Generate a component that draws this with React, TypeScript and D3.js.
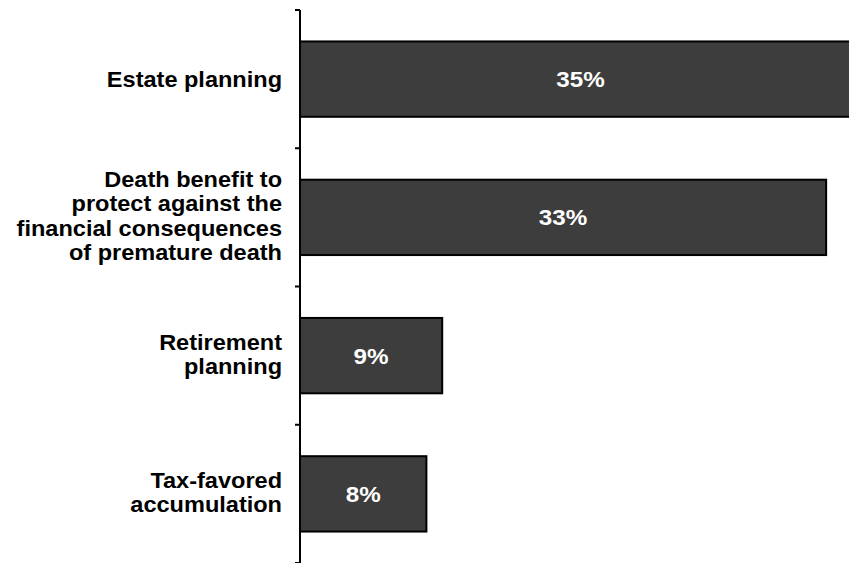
import React from "react";
import * as d3 from "d3";

const categories: string[][] = [
  ["Estate planning"],
  ["Death benefit to", "protect against the", "financial consequences", "of premature death"],
  ["Retirement", "planning"],
  ["Tax-favored", "accumulation"],
];
const values: number[] = [35.5, 33.3, 9, 8];
const labels: string[] = ["35%", "33%", "9%", "8%"];

const W = 849;
const H = 563;

export default function App() {
  const ids = categories.map((_, i) => String(i));
  const y = d3.scaleBand<string>().domain(ids).range([10, 563]).paddingInner(0).paddingOuter(0);
  const x = d3.scaleLinear().domain([0, 35]).range([300, 853]);
  const barH = y.bandwidth() * 0.545;
  const boundaries = [...ids.map((id) => y(id)!), 563];
  const font = "'Liberation Sans', Arial, Helvetica, sans-serif";
  const lh = 24.3;

  return (
    <svg
      width={W}
      height={H}
      style={{ position: "absolute", left: 0, top: 0, background: "#fff" }}
      fontFamily={font}
    >
      {values.map((v, i) => {
        const cy = y(ids[i])! + y.bandwidth() / 2;
        const n = categories[i].length;
        const top = cy - ((n - 1) * lh) / 2 - (n > 1 ? 1.5 : 0);
        return (
          <g key={i}>
            <rect
              x={x(0)}
              y={cy - barH / 2}
              width={x(v) - x(0)}
              height={barH}
              fill="#3d3d3d"
              stroke="#000"
              strokeWidth={2}
            />
            <text
              transform={`translate(${(x(0) + x(v)) / 2}, ${cy}) scale(1.1,1)`}
              dy="0.36em"
              textAnchor="middle"
              fill="#fff"
              fontWeight="bold"
              fontSize={22}
            >
              {labels[i]}
            </text>
            <text
              transform={`translate(282, ${top}) scale(1.07,1)`}
              textAnchor="end"
              fill="#000"
              fontWeight="bold"
              fontSize={22}
            >
              {categories[i].map((line, j) => (
                <tspan key={j} x={0} dy={j === 0 ? "0.35em" : lh}>
                  {line}
                </tspan>
              ))}
            </text>
          </g>
        );
      })}
      <line x1={x(0)} x2={x(0)} y1={10} y2={563} stroke="#000" strokeWidth={2} />
      {boundaries.map((b, i) => (
        <line key={i} x1={x(0) - 5} x2={x(0)} y1={b} y2={b} stroke="#000" strokeWidth={2} />
      ))}
    </svg>
  );
}
